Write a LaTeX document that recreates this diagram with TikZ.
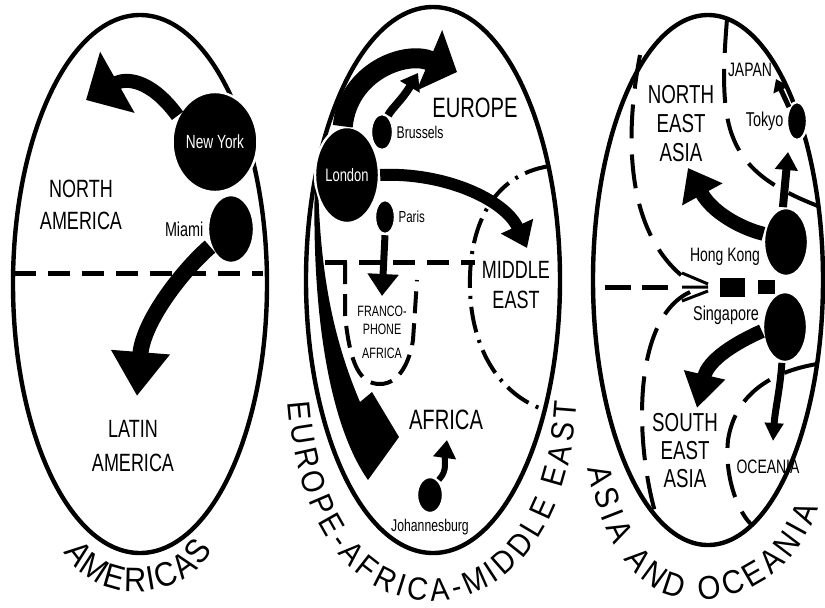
\documentclass[tikz,border=0pt]{standalone}
\usepackage{fontspec}
\setmainfont{Liberation Sans}
\newfontfamily\narrowfont[FakeStretch=0.72]{Liberation Sans}
\newfontfamily\archfont[FakeStretch=0.9]{Liberation Sans}
\usepackage{tikz}
\usetikzlibrary{arrows.meta, positioning, shapes.geometric, decorations.text}

\begin{document}
\begin{tikzpicture}[x=0.5pt, y=-0.5pt, line join=round,
    rim/.style={line width=2.2pt},
    divide/.style={line width=2.5pt, dash pattern=on 11pt off 6pt},
    border/.style={line width=2pt, dash pattern=on 17pt off 8pt},
    city/.style={ellipse, fill=black, draw=white, line width=1.2pt, inner sep=0pt},
    cityname/.style={font=\narrowfont\fontsize{#1}{#1}\selectfont, inner sep=0.5pt},
    region/.style 2 args={font=\narrowfont\fontsize{#1}{#2}\selectfont, align=center, inner sep=0pt},
    flow/.style n args={3}{line width=#1, -{Triangle[length=#2, width=#3]}}]
    \useasboundingbox (0,0) rectangle (825,607);
    % outlines
    \draw[rim] (140,284) ellipse [x radius=127, y radius=269];
    \draw[rim] (433,280) ellipse [x radius=127, y radius=273];
    \draw[rim] (708,280) ellipse [x radius=115, y radius=265];
    \draw[divide] (14,273) -- (263,273);
    \draw[divide] (325,262) -- (475,262);
    \draw[divide, dash pattern=on 13pt off 5.5pt] (605,287) -- (670,287);
    \draw[line width=1.5pt] (682,273) -- (708,284) (682,287) -- (708,287) (682,301) -- (708,291);
    \fill (720,278) rectangle (745,297);
    \fill (758,280) rectangle (775,294);
    \draw[border, dash pattern=on 11pt off 5pt] (345,262) -- (345,315) .. controls (350,365) and (360,384) .. (380,384) .. controls (400,384) and (410,360) .. (413,340) -- (417,280);
    \draw[border, dash pattern=on 13pt off 4pt on 1.5pt off 4pt] (550,166) .. controls (490,175) and (468,230) .. (470,290) .. controls (472,350) and (500,395) .. (545,410);
    \draw[border] (640,55) .. controls (622,150) and (630,240) .. (690,282);
    \draw[border] (690,292) .. controls (630,320) and (635,450) .. (658,522);
    \draw[border] (727,19) .. controls (718,130) and (725,170) .. (818,206);
    \draw[border] (817,364) .. controls (770,372) and (735,395) .. (728,440) .. controls (724,480) and (740,515) .. (752,525);

    % Americas
    \node[city, minimum width=33pt, minimum height=50pt, text=white, cityname=9.5] (ny) at (215,142) {New York};
    \node[city, minimum width=23pt, minimum height=34pt] (mia) at (231,229) {};
    \node[cityname=10, left=1pt of mia] {Miami};
    \node[region={12.5}{16}] (nam) at (81,205) {NORTH\\AMERICA};
    \node[region={12.5}{17}] (lam) at (133,446) {LATIN\\AMERICA};
    \coordinate (naTip) at (86,100);
    \coordinate (laTip) at (137,396);
    \draw[flow={7pt}{18pt}{34pt}] (ny.145) .. controls (150,78) and (125,78) .. (naTip);
    \draw[flow={8pt}{22pt}{28pt}] (mia.220) .. controls (185,268) and (143,320) .. (laTip);

    % Europe - Africa - Middle East
    \node[city, minimum width=30pt, minimum height=48pt, text=white, cityname=9] (lon) at (347,175) {London};
    \node[city, minimum width=11pt, minimum height=18pt] (bru) at (382,132) {};
    \node[cityname=8.5, right=0.5pt of bru] {Brussels};
    \node[city, minimum width=10pt, minimum height=17pt] (par) at (385,217) {};
    \node[cityname=8, right=0.5pt of par] {Paris};
    \node[city, minimum width=13pt, minimum height=18pt] (jbg) at (430,495) {};
    \node[cityname=8.5, below=2pt of jbg] {Johannesburg};
    \node[region={14}{16}] (eu) at (475,108) {EUROPE};
    \node[region={12.5}{15}] (me) at (516,285) {MIDDLE\\EAST};
    \node[region={7.5}{9}] (fra) at (382,332) {FRANCO-\\PHONE\\[3pt]AFRICA};
    \node[region={14}{16}] (af) at (446,420) {AFRICA};
    \coordinate (euTip) at (457,72);
    \coordinate (bruTip) at (418,73);
    \coordinate (meTip) at (527,248);
    \coordinate (fraTip) at (382,296);
    \coordinate (afTip) at (399,437);
    \coordinate (jbgTip) at (447,440);
    \draw[flow={10pt}{15pt}{32pt}] (lon.95) .. controls (348,72) and (405,50) .. (euTip);
    \draw[flow={4pt}{8pt}{11pt}] (bru.70) .. controls (392,108) and (402,100) .. (bruTip);
    \draw[flow={6pt}{12pt}{17pt}] (lon.east) .. controls (445,172) and (505,200) .. (meTip);
    \draw[flow={3.5pt}{11pt}{15pt}] (par.south) -- (fraTip);
    \fill (lon.200) .. controls (312,300) and (326,420) .. (368,480) -- (afTip) -- (372,392) -- (360,402) .. controls (338,350) and (322,290) .. (lon.222) -- cycle;
    \draw[flow={3pt}{9pt}{11pt}] (jbg.60) .. controls (448,470) and (444,462) .. (jbgTip);

    % Asia and Oceania
    \node[city, minimum width=22pt, minimum height=34pt] (hk) at (786,242) {};
    \node[city, minimum width=22pt, minimum height=35pt] (sg) at (785,327) {};
    \node[city, minimum width=10pt, minimum height=19pt] (tok) at (797,121) {};
    \node[cityname=9.7] at (725,257) {Hong Kong};
    \node[cityname=10] at (726,315) {Singapore};
    \node[cityname=10, left=0.5pt of tok] {Tokyo};
    \node[region={13}{14.5}] (nea) at (681,124) {NORTH\\EAST\\ASIA};
    \node[region={13}{14}] (sea) at (685,451) {SOUTH\\EAST\\ASIA};
    \node[region={9.7}{11}] (jap) at (750,70) {JAPAN};
    \node[region={9.7}{11}] (oce) at (768,467) {OCEANIA};
    \coordinate (neaTip) at (688,168);
    \coordinate (tokTip) at (788,152);
    \coordinate (japTip) at (776,79);
    \coordinate (seaTip) at (697,408);
    \coordinate (oceTip) at (773,441);
    \draw[flow={7pt}{15pt}{22pt}] (hk.160) .. controls (740,228) and (712,212) .. (neaTip);
    \draw[flow={4pt}{9pt}{11pt}] (hk.95) -- (tokTip);
    \draw[flow={2.5pt}{6pt}{8pt}] (tok.120) -- (japTip);
    \draw[flow={7pt}{17pt}{20pt}] (sg.190) .. controls (735,343) and (708,360) .. (seaTip);
    \draw[flow={3.5pt}{9pt}{9pt}] (sg.265) .. controls (780,390) and (775,410) .. (oceTip);

    % curved titles
    \path[decorate, decoration={text along path, text align={fit to path}, text={|\archfont\fontsize{17}{17}\selectfont|AMERICAS}}] (64,552) .. controls (95,605) and (180,605) .. (213,550);
    \path[decorate, decoration={text along path, text align={fit to path}, text={|\archfont\fontsize{16}{16}\selectfont|EUROPE-AFRICA-MIDDLE EAST}}] (288,402) .. controls (300,556) and (375,602) .. (432,601) .. controls (495,600) and (568,550) .. (577,402);
    \path[decorate, decoration={text along path, text align={fit to path}, text={|\archfont\fontsize{16.5}{16.5}\selectfont|ASIA AND OCEANIA}}] (588,468) .. controls (605,560) and (650,598) .. (690,600) .. controls (743,602) and (798,572) .. (818,508);
\end{tikzpicture}
\end{document}
